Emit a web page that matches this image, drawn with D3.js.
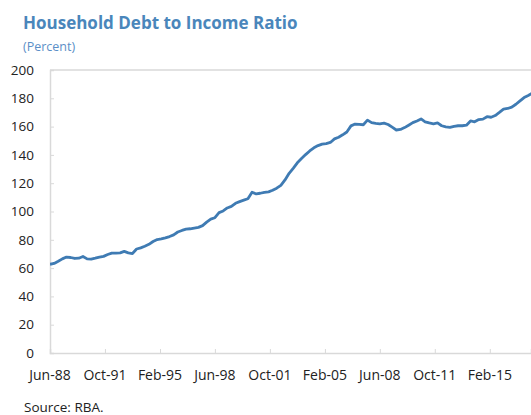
<!DOCTYPE html>
<html>
<head>
<meta charset="utf-8">
<script src="https://cdn.jsdelivr.net/npm/d3@7"></script>
<style>
  body { margin: 0; background: #fff; }
  svg { display: block; }
</style>
</head>
<body>
<div id="chart"></div>
<script>
// Chart size matches the reference picture
const WIDTH = 531, HEIGHT = 415;
const margin = {top: 70, right: 0, bottom: 62, left: 50};

// Quarterly household debt to income ratio (percent), Jun-88 onwards
const startMonth = "Jun-88";
const ratio = [
  62.7, 63.3, 64.8, 66.5, 67.8, 67.5, 66.8, 67.0, 68.2, 66.5,
  66.3, 67.0, 67.8, 68.3, 69.6, 70.6, 70.6, 70.8, 71.8, 70.8,
  70.3, 73.5, 74.3, 75.4, 76.8, 78.8, 80.2, 80.6, 81.4, 82.3,
  83.5, 85.5, 86.6, 87.5, 87.8, 88.3, 88.8, 90.0, 92.5, 94.6,
  95.6, 99.2, 100.4, 102.5, 103.6, 105.8, 107.0, 108.0, 109.0, 113.6,
  112.4, 112.9, 113.5, 113.9, 115.0, 116.5, 118.5, 122.3, 127.0, 130.5,
  134.4, 137.4, 140.2, 142.8, 145.0, 146.6, 147.6, 148.0, 148.8, 151.3,
  152.5, 154.2, 156.2, 160.5, 161.8, 161.6, 161.3, 164.6, 162.8, 162.3,
  162.0, 162.5, 161.5, 159.6, 157.6, 158.0, 159.3, 161.0, 162.8, 164.0,
  165.4, 163.4, 162.6, 162.0, 162.6, 160.6, 159.8, 159.5, 160.2, 160.6,
  160.6, 161.0, 164.0, 163.4, 165.0, 165.3, 167.0, 166.6, 167.8, 170.0,
  172.3, 172.8, 173.8, 175.8, 178.2, 180.5, 182.0, 183.6
];

// Axis labels
const xTickLabels = ["Jun-88", "Oct-91", "Feb-95", "Jun-98", "Oct-01", "Feb-05", "Jun-08", "Oct-11", "Feb-15"];
const yTicks = [0, 20, 40, 60, 80, 100, 120, 140, 160, 180, 200];

const parseMonth = d3.timeParse("%b-%y");
const start = parseMonth(startMonth);
const data = ratio.map((v, i) => ({date: d3.timeMonth.offset(start, 3 * i), value: v}));

let svg = d3.select("#chart")
    .append("svg")
    .attr("width", WIDTH)
    .attr("height", HEIGHT);

let plotW = WIDTH - margin.left - margin.right,
    plotH = HEIGHT - margin.top - margin.bottom;

// x runs a little past the last full label, to the right edge
let x = d3.scaleTime()
    .domain([start, d3.timeMonth.offset(start, 350)])
    .range([margin.left, margin.left + plotW]);

let y = d3.scaleLinear()
    .domain([0, 200])
    .range([margin.top + plotH, margin.top]);

const gridColor = "#d9d9d9";

// Title and unit
svg.append("text")
    .attr("x", 23)
    .attr("y", 29)
    .text("Household Debt to Income Ratio")
    .style("font-family", "Open Sans")
    .style("font-weight", "bold")
    .style("font-size", "17px")
    .style("fill", "#4a86bb");

svg.append("text")
    .attr("x", 23)
    .attr("y", 51)
    .text("(Percent)")
    .style("font-family", "Open Sans")
    .style("font-size", "12.5px")
    .style("fill", "#5b8fc7");

// Top frame line
svg.append("line")
    .attr("x1", margin.left).attr("x2", margin.left + plotW)
    .attr("y1", y(200)).attr("y2", y(200))
    .style("stroke", gridColor)
    .style("stroke-width", 1.5);

// y axis (ticks point inside)
let yAxis = svg.append("g")
    .attr("transform", `translate(${margin.left}, 0)`)
    .call(d3.axisRight(y).tickValues(yTicks).tickSize(4).tickFormat(""));
yAxis.select(".domain").style("stroke", gridColor).style("stroke-width", 1.5);
yAxis.selectAll(".tick line").style("stroke", gridColor);

svg.append("g").selectAll("text")
    .data(yTicks)
    .enter()
    .append("text")
    .attr("x", 34)
    .attr("y", d => y(d))
    .attr("dy", "0.35em")
    .style("text-anchor", "end")
    .style("font-family", "Open Sans")
    .style("font-size", "13.5px")
    .style("fill", "#222")
    .text(d => d);

// x axis (ticks point up)
let xTickDates = xTickLabels.map(parseMonth);
let xAxis = svg.append("g")
    .attr("transform", `translate(0, ${y(0)})`)
    .call(d3.axisTop(x).tickValues(xTickDates).tickSize(4).tickFormat(""));
xAxis.select(".domain").style("stroke", gridColor).style("stroke-width", 1.5);
xAxis.selectAll(".tick line").style("stroke", gridColor);

svg.append("g").selectAll("text")
    .data(xTickLabels)
    .enter()
    .append("text")
    .attr("x", d => x(parseMonth(d)))
    .attr("y", y(0) + 27)
    .style("text-anchor", "middle")
    .style("font-family", "Open Sans")
    .style("font-size", "14px")
    .style("fill", "#222")
    .text(d => d);

// Clip the series at the right edge
svg.append("clipPath")
    .attr("id", "plot-clip")
    .append("rect")
    .attr("x", margin.left).attr("y", 0)
    .attr("width", plotW).attr("height", HEIGHT);

let line = d3.line()
    .x(d => x(d.date))
    .y(d => y(d.value));

svg.append("path")
    .datum(data)
    .attr("clip-path", "url(#plot-clip)")
    .attr("d", line)
    .style("fill", "none")
    .style("stroke", "#3f7bb3")
    .style("stroke-width", 2.8)
    .style("stroke-linejoin", "round");

// Source note
svg.append("text")
    .attr("x", 24)
    .attr("y", 412)
    .text("Source: RBA.")
    .style("font-family", "Open Sans")
    .style("font-size", "13.5px")
    .style("fill", "#222");
</script>
</body>
</html>
